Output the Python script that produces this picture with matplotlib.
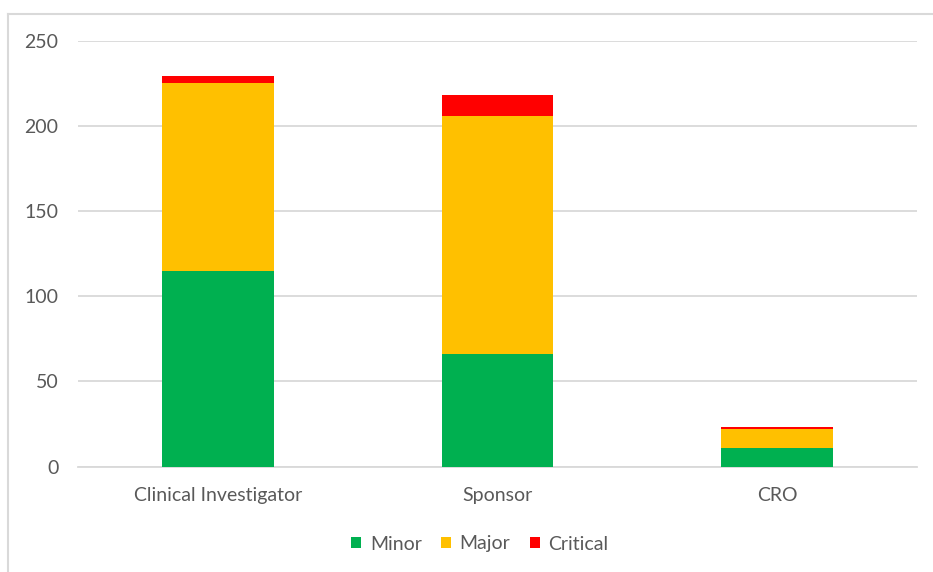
import matplotlib
matplotlib.use("Agg")
import matplotlib.pyplot as plt
from matplotlib.patches import Patch
from matplotlib.lines import Line2D
import numpy as np

categories = ["Clinical Investigator", "Sponsor", "CRO"]
minor = [115, 66, 11]
major = [110, 140, 11]
critical = [4, 12, 1]

series = [("Minor", minor, "#00b050"), ("Major", major, "#ffc000"), ("Critical", critical, "#ff0000")]

plt.rcParams["font.family"] = ["Lato", "DejaVu Sans"]
text_color = "#595959"
grid_color = "#d9d9d9"

W, H = 933, 572
fig = plt.figure(figsize=(W / 100, H / 100), dpi=100)
ax = fig.add_axes([78 / W, 1 - 466.5 / H, (917 - 78) / W, (466.5 - 40.7) / H])

x = np.arange(len(categories))
bottom = np.zeros(len(categories))
handles = []
for name, vals, col in series:
    ax.bar(x, vals, width=0.4, bottom=bottom, color=col, zorder=3)
    bottom += np.array(vals)
    handles.append(Patch(facecolor=col, label=name))

ax.set_xlim(-0.5, len(categories) - 0.5)
ax.set_ylim(0, 250)
ax.set_yticks(range(0, 251, 50))
ax.set_xticks(x)
ax.set_xticklabels(categories)
ax.yaxis.grid(True, color=grid_color, linewidth=1.3, zorder=0)
ax.set_axisbelow(True)
for s in ["top", "right", "left"]:
    ax.spines[s].set_visible(False)
ax.spines["bottom"].set_color(grid_color)
ax.spines["bottom"].set_linewidth(1.3)
ax.tick_params(axis="both", length=0, labelsize=14, colors=text_color)
ax.tick_params(axis="y", pad=14)
ax.tick_params(axis="x", pad=15)

fig.legend(handles=handles, loc="center", bbox_to_anchor=(480 / W, 1 - 544 / H),
           ncol=3, frameon=False, fontsize=14, handlelength=0.5, handleheight=0.5,
           handletextpad=0.45, columnspacing=1.0, labelcolor=text_color)

# chart frame (top and left edges)
fig.add_artist(Line2D([8 / W, 1.0], [1 - 14 / H, 1 - 14 / H], transform=fig.transFigure,
                      color=grid_color, linewidth=1.5))
fig.add_artist(Line2D([8 / W, 8 / W], [1 - 14 / H, 0], transform=fig.transFigure,
                      color=grid_color, linewidth=1.5))

fig.savefig("out.png", dpi=100, facecolor="white")
